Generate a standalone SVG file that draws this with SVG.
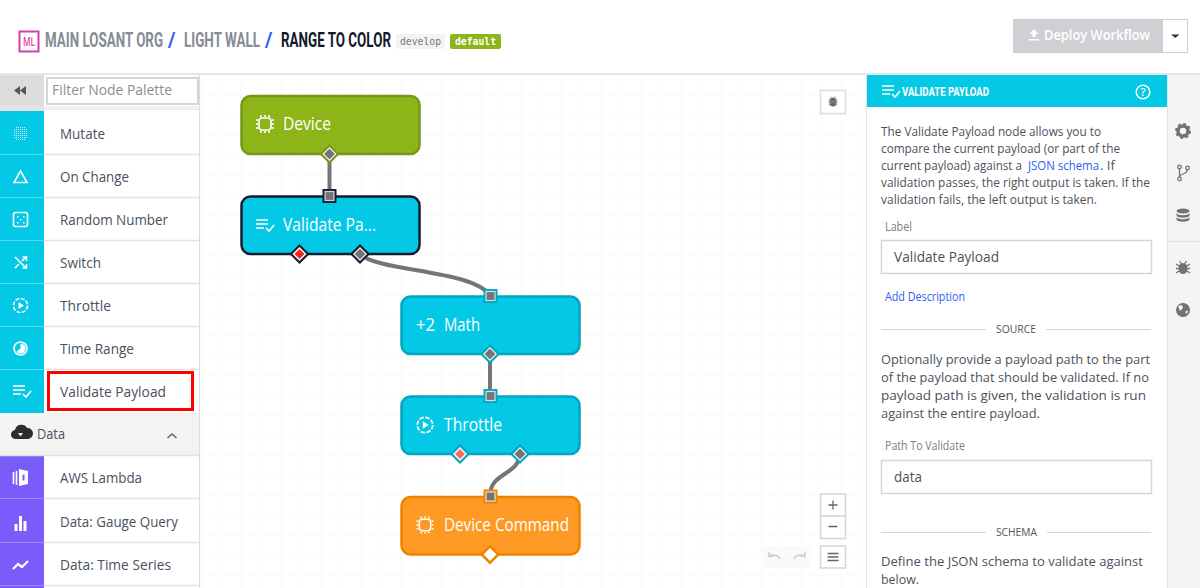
<svg xmlns="http://www.w3.org/2000/svg" width="1200" height="588" viewBox="0 0 1200 588">
<style>
text{font-family:"Open Sans","Noto Sans","Liberation Sans",sans-serif}
.pal{font-size:15px;fill:#4a5060}
.nl{font-size:18px;fill:#fff;font-weight:500}
.ttl{font-family:"Roboto","Liberation Sans",sans-serif;font-size:20px;font-weight:700;fill:#868b96}
.p{font-size:13px;fill:#4d515c}
.lab{font-size:12px;fill:#7b7f88}
.inp{font-size:15px;fill:#4d515c}
.sec{font-size:11.500px;fill:#555}
.link{fill:#2a5ef5}
.mono{font-family:"DejaVu Sans Mono","Liberation Mono",monospace;font-size:10px}
.div{stroke:#e3e3e3;stroke-width:1.500}
.ic{fill:none;stroke:#fff;stroke-width:1.600}
.icf{fill:#fff}
.gi{fill:#6f7379}
.conn{fill:none;stroke:#757575;stroke-width:4}
.pg{fill:#757575;stroke:#fff;stroke-opacity:.75;stroke-width:1.200}
</style>
<defs>
<pattern id="grid" width="20" height="20" patternUnits="userSpaceOnUse" x="0.500" y="14.500">
<path d="M20 0H0V20" fill="none" stroke="#f3f3f3" stroke-width="1"/>
</pattern>
<g id="check-list"><path d="M0 -5H12M0 -1H12M0 3H8" class="ic"/><path d="M10 3l3 3 5-6" class="ic"/></g>
<g id="chip"><rect x="-6" y="-6" width="12" height="12" rx="3" class="ic" stroke-width="2"/><path d="M-4 -9V-7M0 -9V-7M4 -9V-7M-4 7V9M0 7V9M4 7V9M-9 -4H-7M-9 0H-7M-9 4H-7M7 -4H9M7 0H9M7 4H9" class="ic"/></g>
<g id="play"><circle r="7" class="ic" stroke-dasharray="4 1.500"/><path d="M-2 -3.500L3.500 0L-2 3.500Z" class="icf"/></g>
</defs>

<rect width="1200" height="588" fill="#fff"/>
<rect x="200" y="75" width="667" height="513" fill="url(#grid)"/>

<g id="top-bar">
<rect x="19.500" y="31.500" width="19" height="20" fill="#fff" stroke="#d63fae" stroke-width="2"/>
<text x="29" y="46" text-anchor="middle" font-size="12" fill="#d63fae" font-weight="600" textLength="12" lengthAdjust="spacingAndGlyphs">ML</text>
<text class="ttl" transform="translate(45 47) scale(.7 1)" textLength="168.600" lengthAdjust="spacingAndGlyphs">MAIN LOSANT ORG</text>
<text class="ttl" x="168" y="47" style="fill:#2a5ef5">/</text>
<text class="ttl" transform="translate(184 47) scale(.7 1)" textLength="108.600" lengthAdjust="spacingAndGlyphs">LIGHT WALL</text>
<text class="ttl" x="265" y="47" style="fill:#2a5ef5">/</text>
<text class="ttl" transform="translate(281 47) scale(.7 1)" style="fill:#111a2b" textLength="157.100" lengthAdjust="spacingAndGlyphs">RANGE TO COLOR</text>
<rect x="396" y="34" width="49" height="15" rx="2" fill="#f3f3f3"/>
<text class="mono" x="400" y="45" fill="#777" textLength="41" lengthAdjust="spacingAndGlyphs">develop</text>
<rect x="450" y="34" width="51" height="15" rx="2" fill="#8db418"/>
<text class="mono" x="455" y="45" fill="#fff" font-weight="700" textLength="41" lengthAdjust="spacingAndGlyphs">default</text>
<rect x="1013" y="19" width="149" height="34" fill="#cfd0d3"/>
<path d="M1034 32l-4.500 5h3v3h3v-3h3zM1029 42h10v1.500h-10z" fill="#fff" transform="translate(0,-3)"/>
<text x="1044" y="40" font-size="15" font-weight="600" fill="#fff" textLength="106" lengthAdjust="spacingAndGlyphs">Deploy Workflow</text>
<rect x="1162.500" y="19.500" width="25" height="33" fill="#fff" stroke="#cfd0d3"/>
<path d="M1171 34.500h8.500l-4.250 3.500z" fill="#333"/>
<rect x="0" y="73" width="1200" height="2" fill="#e6e6e6"/>
</g>

<g id="palette">
<rect x="0" y="75" width="199" height="36" fill="#fff"/>
<rect x="0" y="75" width="44" height="36" fill="#dcdcdc"/>
<path d="M20 86l-6 4.500 6 4.500zM26 86l-6 4.500 6 4.500z" fill="#555"/>
<rect x="47" y="78" width="151" height="26" fill="#fff" stroke="#d5d5d5" stroke-width="2"/>
<text x="52" y="95" font-size="15" fill="#8b8e94" textLength="120" lengthAdjust="spacingAndGlyphs">Filter Node Palette</text>
<rect x="0" y="106" width="44" height="4.500" fill="#e4e4e4"/>
<rect x="44" y="106" width="155" height="4.500" fill="#f1f1f1"/>
<rect x="0" y="111" width="44" height="302" fill="#03c9e6"/>
<rect x="0" y="456" width="44" height="132" fill="#7a5cfa"/>
<rect x="0" y="413" width="199" height="43" fill="#f3f3f1"/>
<path class="div" d="M44 154.500H199M44 197.500H199M44 240.500H199M44 283.500H199M44 326.500H199M44 369.500H199M0 455.500H199M44 498.500H199M44 542.500H199M44 585.500H199"/>
<path d="M0 154.500H44M0 197.500H44M0 240.500H44M0 283.500H44M0 326.500H44M0 369.500H44M0 498.500H44M0 542.500H44M0 585.500H44" stroke="#fff" stroke-opacity=".3"/>
<path d="M199.500 75V588" stroke="#dcdcdc"/>

<text class="pal" x="60" y="139" textLength="45" lengthAdjust="spacingAndGlyphs">Mutate</text>
<text class="pal" x="60" y="182" textLength="69" lengthAdjust="spacingAndGlyphs">On Change</text>
<text class="pal" x="60" y="225" textLength="108" lengthAdjust="spacingAndGlyphs">Random Number</text>
<text class="pal" x="60" y="268" textLength="41" lengthAdjust="spacingAndGlyphs">Switch</text>
<text class="pal" x="60" y="311" textLength="51" lengthAdjust="spacingAndGlyphs">Throttle</text>
<text class="pal" x="60" y="354" textLength="74" lengthAdjust="spacingAndGlyphs">Time Range</text>
<text class="pal" x="60" y="397" textLength="106" lengthAdjust="spacingAndGlyphs">Validate Payload</text>
<text class="pal" x="37" y="439" textLength="28" lengthAdjust="spacingAndGlyphs">Data</text>
<text class="pal" x="60" y="483" textLength="82" lengthAdjust="spacingAndGlyphs">AWS Lambda</text>
<text class="pal" x="60" y="527" textLength="118" lengthAdjust="spacingAndGlyphs">Data: Gauge Query</text>
<text class="pal" x="60" y="570" textLength="111" lengthAdjust="spacingAndGlyphs">Data: Time Series</text>

<path d="M16 127.500H25M14 129.500H27M14 131.500H27M14 133.500H27M14 135.500H27M14 137.500H27M16 139.500H25" fill="none" stroke="#fff" stroke-opacity=".8" stroke-width="1.100" stroke-dasharray="1.100 .9"/>
<path d="M20.500 171L27 182.500H14Z" class="ic"/>
<rect x="13.500" y="212.500" width="14" height="14" rx="2" class="ic"/>
<path d="M17 216h1.500v1.500H17zM23 216h1.500v1.500H23zM20 219h1.500v1.500H20zM17 222h1.500v1.500H17zM23 222h1.500v1.500H23z" class="icf"/>
<path d="M15 257l11 11M15 268l4-4M22 261l4-4M22.500 257H26.500V261M22.500 268H26.500V264" class="ic"/>
<use href="#play" x="20.500" y="305.500"/>
<circle cx="20.500" cy="348.500" r="6.500" class="ic" stroke-width="2"/><path d="M20.500 348.500V343.500A5 5 0 1 1 16.500 351.500Z" class="icf"/>
<use href="#check-list" x="13" y="391"/>
<path d="M16 439a4.500 4.500 0 0 1 -1 -9a6.500 6.500 0 0 1 12 -2a5.500 5.500 0 0 1 1 11z" fill="#2d2d2d"/>
<path d="M18 433h5l-2.500 3.500z" fill="#f3f3f1"/>
<path d="M167.500 438l4.500 -4 4.500 4" fill="none" stroke="#666" stroke-width="1.600"/>
<path d="M13.500 472v12M16.500 471v14" class="ic"/><path d="M19 469l9 2v13l-9 2z" class="icf"/><path d="M22.500 474.500h2v6h-2z" fill="#7a5cfa"/>
<path d="M14.500 524h3v7h-3zM19 516h3v15h-3zM23.500 521h3v10h-3z" class="icf"/>
<path d="M13 569l5 -5 4 3 6 -6" fill="none" stroke="#fff" stroke-width="2.200"/>
<rect x="48.500" y="372.500" width="144" height="37" fill="#fff" fill-opacity="0" stroke="#f00" stroke-width="3"/>
</g>

<g id="connectors">
<path class="conn" d="M329.500 154V196"/>
<path class="conn" d="M360 254C378 272 476 270 490 296"/>
<path class="conn" d="M490 354V396"/>
<path class="conn" d="M520 454C518 476 490 472 490 496"/>
</g>

<g id="node-device">
<rect x="241.500" y="96" width="178" height="58" rx="9" fill="#8db418" stroke="#76981a" stroke-width="2.500"/>
<use href="#chip" x="265" y="124"/>
<text class="nl" x="283" y="130" textLength="48" lengthAdjust="spacingAndGlyphs">Device</text>
<path d="M329.500 144l10 10-10 10-10-10z" fill="#76981a"/>
<path d="M329.500 147l7 7-7 7-7-7z" fill="#fff"/>
<path d="M329.500 148.500l5.500 5.500-5.500 5.500-5.500-5.500z" fill="#757575"/>
</g>

<g id="node-validate">
<rect x="241.500" y="196.500" width="178" height="57.500" rx="9" fill="#03c9e6" stroke="#131c32" stroke-width="2.500"/>
<use href="#check-list" x="256" y="225"/>
<text class="nl" x="283" y="231" textLength="93" lengthAdjust="spacingAndGlyphs">Validate Pa...</text>
<rect x="322.500" y="189" width="14" height="14" fill="#131c32"/>
<rect x="325" y="191.500" width="9" height="9" class="pg"/>
<path d="M299.500 244l10 10-10 10-10-10z" fill="#131c32"/>
<path d="M299.500 247l7 7-7 7-7-7z" fill="#fff"/>
<path d="M299.500 249l5 5-5 5-5-5z" fill="#f3241d"/>
<path d="M360 244l10 10-10 10-10-10z" fill="#131c32"/>
<path d="M360 247l7 7-7 7-7-7z" fill="#fff"/>
<path d="M360 248.500l5.500 5.500-5.500 5.500-5.500-5.500z" fill="#757575"/>
</g>

<g id="node-math">
<rect x="401.500" y="296.500" width="178" height="57.500" rx="9" fill="#03c9e6" stroke="#04a5bf" stroke-width="2.500"/>
<text class="nl" x="416" y="331" textLength="19" lengthAdjust="spacingAndGlyphs">+2</text>
<text class="nl" x="444" y="331" textLength="36" lengthAdjust="spacingAndGlyphs">Math</text>
<rect x="483.500" y="289" width="14" height="14" fill="#04a5bf"/>
<rect x="486" y="291.500" width="9" height="9" class="pg"/>
<path d="M490 344l10 10-10 10-10-10z" fill="#04a5bf"/>
<path d="M490 347l7 7-7 7-7-7z" fill="#fff"/>
<path d="M490 348.500l5.500 5.500-5.500 5.500-5.500-5.500z" fill="#757575"/>
</g>

<g id="node-throttle">
<rect x="401.500" y="396.500" width="178" height="57.500" rx="9" fill="#03c9e6" stroke="#04a5bf" stroke-width="2.500"/>
<use href="#play" transform="translate(425,425) scale(1.100)"/>
<text class="nl" x="444" y="431" textLength="58" lengthAdjust="spacingAndGlyphs">Throttle</text>
<rect x="483.500" y="389" width="14" height="14" fill="#04a5bf"/>
<rect x="486" y="391.500" width="9" height="9" class="pg"/>
<path d="M460 444l10 10-10 10-10-10z" fill="#04a5bf"/>
<path d="M460 447l7 7-7 7-7-7z" fill="#fff"/>
<path d="M460 449l5 5-5 5-5-5z" fill="#f96a64"/>
<path d="M520 444l10 10-10 10-10-10z" fill="#04a5bf"/>
<path d="M520 447l7 7-7 7-7-7z" fill="#fff"/>
<path d="M520 448.500l5.500 5.500-5.500 5.500-5.500-5.500z" fill="#757575"/>
</g>

<g id="node-device-command">
<rect x="401.500" y="497" width="178" height="57.500" rx="9" fill="#fe9a24" stroke="#ee8200" stroke-width="2.500"/>
<use href="#chip" transform="translate(425,525) scale(.95)"/>
<text class="nl" x="444" y="531" textLength="125" lengthAdjust="spacingAndGlyphs">Device Command</text>
<rect x="483.500" y="489.500" width="14" height="14" fill="#ee8200"/>
<rect x="486" y="492" width="9" height="9" class="pg"/>
<path d="M490 544.500l10 10-10 10-10-10z" fill="#ee8200"/>
<path d="M490 548l6.500 6.500-6.500 6.500-6.500-6.500z" fill="#fff"/>
</g>

<g id="canvas-controls">
<rect x="820.500" y="90.500" width="25" height="23" fill="#fff" stroke="#dcdcdc" stroke-width="1.500"/>
<ellipse cx="833" cy="102" rx="3.500" ry="4.500" fill="#666"/>
<path d="M828.500 99l9 6M837.500 99l-9 6M828 102H838M830.500 96.500l1 2M835.500 96.500l-1 2" stroke="#888" stroke-width=".8" fill="none"/>
<rect x="820.500" y="494" width="25" height="22" fill="#fff" stroke="#d5d5d5" stroke-width="1.500"/>
<rect x="820.500" y="516" width="25" height="22.500" fill="#fff" stroke="#d5d5d5" stroke-width="1.500"/>
<path d="M833 500.500v9M828.500 505h9M828.500 526.500h9" stroke="#666" stroke-width="1.300"/>
<rect x="820.500" y="546" width="25" height="22" fill="#fff" stroke="#d5d5d5" stroke-width="1.500"/>
<path d="M827.500 553.500h11M827.500 557h11M827.500 560.500h11" stroke="#666" stroke-width="1.300"/>
<rect x="763" y="546" width="48" height="22" fill="#fafafa"/>
<path d="M769 556a7 5 0 0 1 11 3M769 552v4.500h4.500" fill="none" stroke="#d0d0d0" stroke-width="1.600"/>
<path d="M805 556a7 5 0 0 0 -11 3M805 552v4.500h-4.500" fill="none" stroke="#d0d0d0" stroke-width="1.600"/>
</g>

<g id="properties-panel">
<rect x="867" y="75" width="300" height="513" fill="#fff"/>
<path d="M866.500 75V588M1167.500 75V588" stroke="#e3e3e3"/>
<rect x="867" y="75" width="300" height="32" fill="#03c9e6"/>
<use href="#check-list" x="882" y="91"/>
<text x="902" y="96" style="font-family:Roboto,sans-serif" font-size="13.500" font-weight="700" fill="#fff" textLength="87" lengthAdjust="spacingAndGlyphs">VALIDATE PAYLOAD</text>
<circle cx="1143" cy="92" r="6.800" fill="none" stroke="#fff" stroke-width="1.500"/>
<text x="1143" y="96" text-anchor="middle" font-size="11" fill="#fff" font-weight="600">?</text>

<text class="p" x="881" y="136" textLength="220" lengthAdjust="spacingAndGlyphs">The Validate Payload node allows you to</text>
<text class="p" x="881" y="153" textLength="239" lengthAdjust="spacingAndGlyphs">compare the current payload (or part of the</text>
<text class="p" transform="translate(881 170) scale(.88 1)" textLength="160.200" lengthAdjust="spacingAndGlyphs">current payload) against a</text>
<text class="p link" transform="translate(1028 170) scale(.88 1)" style="fill:#2a5ef5" textLength="80.700" lengthAdjust="spacingAndGlyphs">JSON schema</text>
<text class="p" x="1100" y="170">. If</text>
<text class="p" x="881" y="187" textLength="269" lengthAdjust="spacingAndGlyphs">validation passes, the right output is taken. If the</text>
<text class="p" x="881" y="204" textLength="216" lengthAdjust="spacingAndGlyphs">validation fails, the left output is taken.</text>

<text class="lab" x="885" y="231" textLength="27" lengthAdjust="spacingAndGlyphs">Label</text>
<rect x="881.500" y="240.500" width="270" height="33" fill="#fff" stroke="#d5d5d5" stroke-width="1.500"/>
<text class="inp" x="894" y="262" textLength="105" lengthAdjust="spacingAndGlyphs">Validate Payload</text>
<text x="885" y="301" font-size="12" class="link" textLength="80" lengthAdjust="spacingAndGlyphs">Add Description</text>

<path d="M881 329.500H986M1046 329.500H1151" stroke="#d5d5d5"/>
<text class="sec" x="996" y="333" textLength="40" lengthAdjust="spacingAndGlyphs">SOURCE</text>
<text class="p" x="881" y="364" textLength="269" lengthAdjust="spacingAndGlyphs">Optionally provide a payload path to the part</text>
<text class="p" x="881" y="382" textLength="268" lengthAdjust="spacingAndGlyphs">of the payload that should be validated. If no</text>
<text class="p" x="881" y="400" textLength="265" lengthAdjust="spacingAndGlyphs">payload path is given, the validation is run</text>
<text class="p" x="881" y="418" textLength="159" lengthAdjust="spacingAndGlyphs">against the entire payload.</text>

<text class="lab" x="885" y="450" textLength="80" lengthAdjust="spacingAndGlyphs">Path To Validate</text>
<rect x="881.500" y="460.500" width="270" height="33" fill="#fff" stroke="#d5d5d5" stroke-width="1.500"/>
<text class="inp" x="894" y="482" textLength="28" lengthAdjust="spacingAndGlyphs">data</text>

<path d="M881 532.500H986M1047 532.500H1151" stroke="#d5d5d5"/>
<text class="sec" x="996" y="536" textLength="41" lengthAdjust="spacingAndGlyphs">SCHEMA</text>
<text class="p" x="881" y="566" textLength="262" lengthAdjust="spacingAndGlyphs">Define the JSON schema to validate against</text>
<text class="p" x="881" y="584" textLength="38" lengthAdjust="spacingAndGlyphs">below.</text>
</g>

<g id="right-rail">
<rect x="1168" y="75" width="32" height="513" fill="#f4f4f3"/>
<path d="M1168 241.500H1200" stroke="#e0e0e0"/>
<circle cx="1183" cy="131" r="5" fill="none" stroke="#6f7379" stroke-width="3.500"/>
<circle cx="1183" cy="131" r="7" fill="none" stroke="#6f7379" stroke-width="2" stroke-dasharray="2.800 2.700"/>
<circle cx="1179.500" cy="167" r="1.800" fill="none" stroke="#6f7379" stroke-width="1.300"/>
<circle cx="1187.500" cy="168" r="1.800" fill="none" stroke="#6f7379" stroke-width="1.300"/>
<circle cx="1179.500" cy="179" r="1.800" fill="none" stroke="#6f7379" stroke-width="1.300"/>
<path d="M1179.500 169V177M1187 170C1187 175 1180 173 1179.500 177" fill="none" stroke="#6f7379" stroke-width="1.300"/>
<ellipse class="gi" cx="1183" cy="211" rx="6.500" ry="2.500"/>
<path class="gi" d="M1176.500 213c1 3 12 3 13 0v2.500c-1 3-12 3-13 0zM1176.500 217c1 3 12 3 13 0v2.500c-1 3-12 3-13 0z"/>
<ellipse class="gi" cx="1183" cy="268.500" rx="4.500" ry="5.500"/>
<path d="M1176 264l14 9M1190 264l-14 9M1176 268.500H1190M1179.500 261l2 3M1186.500 261l-2 3" stroke="#6f7379" stroke-width="1.300" fill="none"/>
<circle class="gi" cx="1183" cy="310" r="7"/>
<path d="M1178 306l4-1 1 3-3 3zM1185 312l3-2-1 4z" fill="#f4f4f3"/>
</g>
</svg>
